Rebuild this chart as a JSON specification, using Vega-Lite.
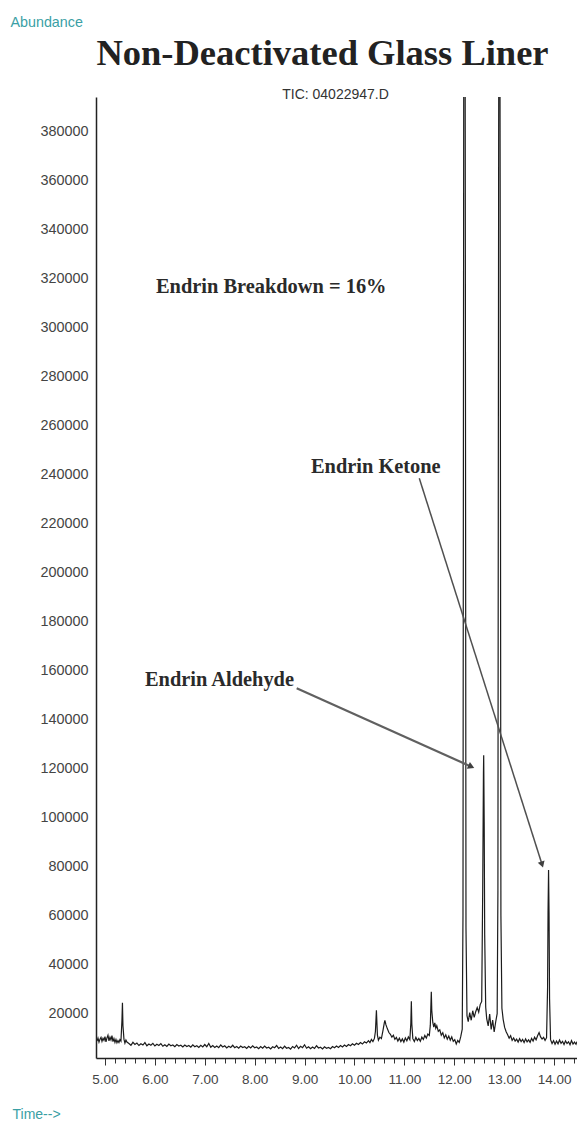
{
  "$schema": "https://vega.github.io/schema/vega-lite/v6.json",
  "width": 481,
  "height": 961,
  "autosize": {"type": "none"},
  "padding": {"left": 96, "top": 97, "right": 0, "bottom": 69},
  "background": "white",
  "title": {
    "text": "Non-Deactivated Glass Liner",
    "font": "Liberation Serif",
    "fontSize": 36.5,
    "fontWeight": "bold",
    "color": "#222222",
    "anchor": "middle",
    "baseline": "alphabetic",
    "dx": -14,
    "offset": -86
  },
  "config": {
    "view": {"stroke": null},
    "font": "Liberation Sans, Arial, sans-serif"
  },
  "resolve": {"axis": {"x": "independent"}},
  "layer": [
    {
      "description": "Total ion chromatogram trace",
      "data": {
        "values": [
          {"t": 4.84, "a": 8600}, {"t": 4.86, "a": 9800}, {"t": 4.88, "a": 8200}, {"t": 4.9, "a": 9400},
          {"t": 4.92, "a": 10100}, {"t": 4.94, "a": 8500}, {"t": 4.96, "a": 9700}, {"t": 4.98, "a": 8900},
          {"t": 5.0, "a": 10400}, {"t": 5.02, "a": 8300}, {"t": 5.04, "a": 9900}, {"t": 5.06, "a": 11000},
          {"t": 5.08, "a": 8700}, {"t": 5.1, "a": 10200}, {"t": 5.12, "a": 9100}, {"t": 5.14, "a": 10800},
          {"t": 5.16, "a": 8400}, {"t": 5.18, "a": 9600}, {"t": 5.2, "a": 8100}, {"t": 5.22, "a": 9300},
          {"t": 5.24, "a": 7900}, {"t": 5.26, "a": 8800}, {"t": 5.28, "a": 8000}, {"t": 5.3, "a": 9200},
          {"t": 5.32, "a": 8600}, {"t": 5.34, "a": 17000}, {"t": 5.35, "a": 24200}, {"t": 5.36, "a": 15000},
          {"t": 5.38, "a": 9400}, {"t": 5.4, "a": 7800}, {"t": 5.42, "a": 9000}, {"t": 5.44, "a": 8200},
          {"t": 5.48, "a": 7600}, {"t": 5.52, "a": 6900}, {"t": 5.56, "a": 8100}, {"t": 5.6, "a": 7200},
          {"t": 5.64, "a": 7800}, {"t": 5.68, "a": 6800}, {"t": 5.72, "a": 7500}, {"t": 5.76, "a": 7000},
          {"t": 5.8, "a": 8000}, {"t": 5.84, "a": 6700}, {"t": 5.88, "a": 7400}, {"t": 5.92, "a": 6900},
          {"t": 5.96, "a": 7700}, {"t": 6.0, "a": 6600}, {"t": 6.04, "a": 7300}, {"t": 6.08, "a": 6800},
          {"t": 6.12, "a": 7600}, {"t": 6.16, "a": 6500}, {"t": 6.2, "a": 7100}, {"t": 6.24, "a": 6400},
          {"t": 6.28, "a": 7400}, {"t": 6.32, "a": 6700}, {"t": 6.36, "a": 7000}, {"t": 6.4, "a": 6300},
          {"t": 6.44, "a": 7200}, {"t": 6.48, "a": 6600}, {"t": 6.52, "a": 6900}, {"t": 6.56, "a": 6200},
          {"t": 6.6, "a": 7000}, {"t": 6.64, "a": 6400}, {"t": 6.68, "a": 6800}, {"t": 6.72, "a": 6100},
          {"t": 6.76, "a": 7100}, {"t": 6.8, "a": 6300}, {"t": 6.84, "a": 6700}, {"t": 6.88, "a": 6000},
          {"t": 6.92, "a": 6900}, {"t": 6.96, "a": 6200}, {"t": 7.0, "a": 7200}, {"t": 7.04, "a": 6300},
          {"t": 7.08, "a": 7600}, {"t": 7.12, "a": 6100}, {"t": 7.16, "a": 6800}, {"t": 7.2, "a": 6000},
          {"t": 7.24, "a": 6600}, {"t": 7.28, "a": 5900}, {"t": 7.32, "a": 7000}, {"t": 7.36, "a": 6200},
          {"t": 7.4, "a": 6700}, {"t": 7.44, "a": 5800}, {"t": 7.48, "a": 6500}, {"t": 7.52, "a": 6000},
          {"t": 7.56, "a": 6900}, {"t": 7.6, "a": 5900}, {"t": 7.64, "a": 6400}, {"t": 7.68, "a": 5700},
          {"t": 7.72, "a": 6600}, {"t": 7.76, "a": 6000}, {"t": 7.8, "a": 6300}, {"t": 7.84, "a": 5600},
          {"t": 7.88, "a": 6500}, {"t": 7.92, "a": 5800}, {"t": 7.96, "a": 6700}, {"t": 8.0, "a": 5900},
          {"t": 8.04, "a": 6200}, {"t": 8.08, "a": 5500}, {"t": 8.12, "a": 6400}, {"t": 8.16, "a": 5700},
          {"t": 8.2, "a": 6600}, {"t": 8.24, "a": 5800}, {"t": 8.28, "a": 6100}, {"t": 8.32, "a": 5400},
          {"t": 8.36, "a": 6300}, {"t": 8.4, "a": 5900}, {"t": 8.44, "a": 6800}, {"t": 8.48, "a": 5600},
          {"t": 8.52, "a": 6200}, {"t": 8.56, "a": 5500}, {"t": 8.6, "a": 6500}, {"t": 8.64, "a": 5700},
          {"t": 8.68, "a": 6000}, {"t": 8.72, "a": 5300}, {"t": 8.76, "a": 6400}, {"t": 8.8, "a": 5800},
          {"t": 8.84, "a": 6900}, {"t": 8.88, "a": 5600}, {"t": 8.92, "a": 6500}, {"t": 8.96, "a": 5900},
          {"t": 9.0, "a": 7100}, {"t": 9.04, "a": 5700}, {"t": 9.08, "a": 6300}, {"t": 9.12, "a": 5500},
          {"t": 9.16, "a": 6200}, {"t": 9.2, "a": 5600}, {"t": 9.24, "a": 6700}, {"t": 9.28, "a": 5800},
          {"t": 9.32, "a": 6100}, {"t": 9.36, "a": 5400}, {"t": 9.4, "a": 6300}, {"t": 9.44, "a": 5700},
          {"t": 9.48, "a": 6000}, {"t": 9.52, "a": 5500}, {"t": 9.56, "a": 6400}, {"t": 9.6, "a": 5900},
          {"t": 9.64, "a": 6600}, {"t": 9.68, "a": 6000}, {"t": 9.72, "a": 6800}, {"t": 9.76, "a": 6200},
          {"t": 9.8, "a": 7000}, {"t": 9.84, "a": 6400}, {"t": 9.88, "a": 7200}, {"t": 9.92, "a": 6700},
          {"t": 9.96, "a": 7500}, {"t": 10.0, "a": 6900}, {"t": 10.04, "a": 7700}, {"t": 10.08, "a": 7200},
          {"t": 10.12, "a": 8000}, {"t": 10.16, "a": 7400}, {"t": 10.2, "a": 8300}, {"t": 10.24, "a": 7800},
          {"t": 10.28, "a": 8800}, {"t": 10.31, "a": 8000}, {"t": 10.34, "a": 9300}, {"t": 10.37, "a": 8400},
          {"t": 10.4, "a": 9700}, {"t": 10.42, "a": 12500}, {"t": 10.44, "a": 21200}, {"t": 10.46, "a": 11000},
          {"t": 10.48, "a": 9000}, {"t": 10.51, "a": 10200}, {"t": 10.54, "a": 9600}, {"t": 10.57, "a": 12800},
          {"t": 10.6, "a": 16200}, {"t": 10.61, "a": 17100}, {"t": 10.63, "a": 15300}, {"t": 10.66, "a": 13600},
          {"t": 10.69, "a": 12100}, {"t": 10.72, "a": 11400}, {"t": 10.75, "a": 10200}, {"t": 10.78, "a": 11000},
          {"t": 10.81, "a": 9300}, {"t": 10.84, "a": 10100}, {"t": 10.87, "a": 8600}, {"t": 10.9, "a": 9800},
          {"t": 10.93, "a": 8400}, {"t": 10.96, "a": 9500}, {"t": 10.99, "a": 8200}, {"t": 11.02, "a": 9900},
          {"t": 11.05, "a": 8700}, {"t": 11.08, "a": 10300}, {"t": 11.11, "a": 9200}, {"t": 11.13, "a": 16000},
          {"t": 11.14, "a": 24900}, {"t": 11.15, "a": 15500}, {"t": 11.17, "a": 9600}, {"t": 11.2, "a": 8400},
          {"t": 11.23, "a": 10100}, {"t": 11.26, "a": 8800}, {"t": 11.29, "a": 9700}, {"t": 11.32, "a": 8500},
          {"t": 11.35, "a": 10200}, {"t": 11.38, "a": 9300}, {"t": 11.41, "a": 10900}, {"t": 11.44, "a": 9800},
          {"t": 11.47, "a": 11500}, {"t": 11.5, "a": 10900}, {"t": 11.52, "a": 15000}, {"t": 11.54, "a": 28700},
          {"t": 11.55, "a": 21000}, {"t": 11.57, "a": 16200}, {"t": 11.59, "a": 14300}, {"t": 11.61, "a": 16000},
          {"t": 11.63, "a": 13800}, {"t": 11.65, "a": 14900}, {"t": 11.68, "a": 12600}, {"t": 11.71, "a": 13200},
          {"t": 11.74, "a": 11000}, {"t": 11.77, "a": 12000}, {"t": 11.8, "a": 9900}, {"t": 11.83, "a": 11200},
          {"t": 11.86, "a": 9400}, {"t": 11.89, "a": 10700}, {"t": 11.92, "a": 9000}, {"t": 11.95, "a": 10300},
          {"t": 11.98, "a": 8500}, {"t": 12.01, "a": 9200}, {"t": 12.04, "a": 7400}, {"t": 12.07, "a": 8900},
          {"t": 12.1, "a": 8100}, {"t": 12.13, "a": 10400}, {"t": 12.16, "a": 13500}, {"t": 12.175, "a": 60000},
          {"t": 12.19, "a": 400000}, {"t": 12.205, "a": 612000}, {"t": 12.22, "a": 380000}, {"t": 12.235, "a": 55000},
          {"t": 12.255, "a": 19000}, {"t": 12.28, "a": 16500}, {"t": 12.31, "a": 20200}, {"t": 12.34, "a": 17100},
          {"t": 12.37, "a": 21000}, {"t": 12.4, "a": 18300}, {"t": 12.43, "a": 20600}, {"t": 12.46, "a": 22300},
          {"t": 12.49, "a": 20400}, {"t": 12.52, "a": 23500}, {"t": 12.55, "a": 24800}, {"t": 12.57, "a": 70000},
          {"t": 12.585, "a": 118000}, {"t": 12.59, "a": 125300}, {"t": 12.6, "a": 98000}, {"t": 12.61, "a": 52000},
          {"t": 12.63, "a": 22500}, {"t": 12.65, "a": 17800}, {"t": 12.68, "a": 14800}, {"t": 12.71, "a": 19600},
          {"t": 12.74, "a": 13400}, {"t": 12.77, "a": 17200}, {"t": 12.8, "a": 12300}, {"t": 12.83, "a": 16400},
          {"t": 12.86, "a": 19800}, {"t": 12.875, "a": 70000}, {"t": 12.89, "a": 380000}, {"t": 12.905, "a": 545000},
          {"t": 12.92, "a": 360000}, {"t": 12.935, "a": 60000}, {"t": 12.955, "a": 22000}, {"t": 12.98, "a": 17500},
          {"t": 13.01, "a": 14200}, {"t": 13.04, "a": 12400}, {"t": 13.07, "a": 11200}, {"t": 13.1, "a": 9800},
          {"t": 13.13, "a": 10800}, {"t": 13.16, "a": 8900}, {"t": 13.19, "a": 9900}, {"t": 13.22, "a": 8600},
          {"t": 13.25, "a": 9400}, {"t": 13.28, "a": 8200}, {"t": 13.31, "a": 9600}, {"t": 13.34, "a": 8400},
          {"t": 13.37, "a": 9300}, {"t": 13.4, "a": 8000}, {"t": 13.43, "a": 9500}, {"t": 13.46, "a": 8300},
          {"t": 13.49, "a": 9100}, {"t": 13.52, "a": 8100}, {"t": 13.55, "a": 9700}, {"t": 13.58, "a": 8600},
          {"t": 13.61, "a": 10200}, {"t": 13.64, "a": 9100}, {"t": 13.67, "a": 10800}, {"t": 13.7, "a": 12100},
          {"t": 13.73, "a": 10300}, {"t": 13.76, "a": 9400}, {"t": 13.79, "a": 10100}, {"t": 13.82, "a": 8900},
          {"t": 13.85, "a": 10000}, {"t": 13.87, "a": 30000}, {"t": 13.88, "a": 62000}, {"t": 13.89, "a": 78400},
          {"t": 13.9, "a": 60000}, {"t": 13.91, "a": 26000}, {"t": 13.93, "a": 9200}, {"t": 13.96, "a": 7600},
          {"t": 13.99, "a": 8800}, {"t": 14.02, "a": 7300}, {"t": 14.05, "a": 8600}, {"t": 14.08, "a": 7500},
          {"t": 14.11, "a": 9000}, {"t": 14.14, "a": 7700}, {"t": 14.17, "a": 8500}, {"t": 14.2, "a": 7200},
          {"t": 14.23, "a": 8700}, {"t": 14.26, "a": 7600}, {"t": 14.29, "a": 8300}, {"t": 14.32, "a": 7100},
          {"t": 14.35, "a": 8800}, {"t": 14.38, "a": 7400}, {"t": 14.41, "a": 8200}, {"t": 14.44, "a": 7300},
          {"t": 14.46, "a": 8400}
        ]
      },
      "mark": {"type": "line", "color": "#1c1c1c", "strokeWidth": 1.2, "clip": true},
      "encoding": {
        "x": {
          "field": "t",
          "type": "quantitative",
          "scale": {"domain": [4.82, 14.46], "nice": false, "zero": false},
          "axis": {
            "orient": "bottom",
            "values": [5, 5.2, 5.4, 5.6, 5.8, 6, 6.2, 6.4, 6.6, 6.8, 7, 7.2, 7.4, 7.6, 7.8, 8, 8.2, 8.4, 8.6, 8.8, 9, 9.2, 9.4, 9.6, 9.8, 10, 10.2, 10.4, 10.6, 10.8, 11, 11.2, 11.4, 11.6, 11.8, 12, 12.2, 12.4, 12.6, 12.8, 13, 13.2, 13.4, 13.6, 13.8, 14, 14.2, 14.4],
            "labelExpr": "abs(datum.value - round(datum.value)) < 0.01 ? format(datum.value, '.2f') : ''",
            "labelFontSize": 13.5,
            "labelColor": "#444444",
            "labelPadding": 7,
            "labelOverlap": false,
            "labelFlush": false,
            "tickColor": "#333333",
            "tickWidth": 1,
            "tickSize": {"condition": {"test": "abs(datum.value - round(datum.value)) < 0.01", "value": 7}, "value": 5},
            "domainColor": "#222222",
            "domainWidth": 1.5,
            "grid": false,
            "title": "Time-->",
            "titleColor": "#3a9fa5",
            "titleFontSize": 14,
            "titleFontWeight": "normal",
            "titleAlign": "left",
            "titleBaseline": "top",
            "titleX": -84,
            "titleY": 49
          }
        },
        "y": {
          "field": "a",
          "type": "quantitative",
          "scale": {"domain": [1700, 394000], "nice": false, "zero": false},
          "axis": {
            "values": [20000, 40000, 60000, 80000, 100000, 120000, 140000, 160000, 180000, 200000, 220000, 240000, 260000, 280000, 300000, 320000, 340000, 360000, 380000],
            "format": "d",
            "ticks": false,
            "labelPadding": 8,
            "labelFontSize": 14.4,
            "labelColor": "#444444",
            "domainColor": "#222222",
            "domainWidth": 1.5,
            "grid": false,
            "title": "Abundance",
            "titleAngle": 0,
            "titleAlign": "left",
            "titleBaseline": "top",
            "titleX": -86,
            "titleY": -82,
            "titleColor": "#3a9fa5",
            "titleFontSize": 14.3,
            "titleFontWeight": "normal"
          }
        }
      }
    },
    {
      "description": "Annotation labels",
      "data": {
        "values": [
          {"t": 6.022, "a": 313990, "label": "Endrin Breakdown = 16%"},
          {"t": 9.128, "a": 240510, "label": "Endrin Ketone"},
          {"t": 5.802, "a": 153560, "label": "Endrin Aldehyde"}
        ]
      },
      "mark": {
        "type": "text",
        "font": "Liberation Serif",
        "fontWeight": "bold",
        "fontSize": 20.4,
        "align": "left",
        "baseline": "alphabetic",
        "color": "#2a2a2a"
      },
      "encoding": {
        "x": {
          "field": "t",
          "type": "quantitative",
          "scale": {"domain": [4.82, 14.46], "nice": false, "zero": false},
          "axis": {
            "orient": "top",
            "domain": false,
            "ticks": false,
            "labels": false,
            "grid": false,
            "title": "TIC: 04022947.D",
            "titleFontSize": 14,
            "titleFontWeight": "normal",
            "titleColor": "#333333",
            "titleAlign": "center",
            "titleBaseline": "middle",
            "titleX": 239,
            "titleY": -3
          }
        },
        "y": {
          "field": "a",
          "type": "quantitative",
          "scale": {"domain": [1700, 394000], "nice": false, "zero": false}
        },
        "text": {"field": "label"}
      }
    },
    {
      "description": "Arrow to the aldehyde peak",
      "data": {"values": [{"t": 8.842, "a": 152620, "t2": 12.342, "a2": 120630}]},
      "layer": [
        {
          "mark": {"type": "rule", "color": "#606060", "strokeWidth": 2.2},
          "encoding": {
            "x": {"field": "t", "type": "quantitative", "scale": {"domain": [4.82, 14.46], "nice": false, "zero": false}, "axis": null},
            "y": {"field": "a", "type": "quantitative", "scale": {"domain": [1700, 394000], "nice": false, "zero": false}},
            "x2": {"field": "t2"},
            "y2": {"field": "a2"}
          }
        },
        {
          "mark": {"type": "point", "shape": "triangle-up", "filled": true, "color": "#404040", "opacity": 1, "size": 55, "angle": 114.2},
          "encoding": {
            "x": {"field": "t2", "type": "quantitative", "scale": {"domain": [4.82, 14.46], "nice": false, "zero": false}, "axis": null},
            "y": {"field": "a2", "type": "quantitative", "scale": {"domain": [1700, 394000], "nice": false, "zero": false}}
          }
        }
      ]
    },
    {
      "description": "Arrow to the ketone peak",
      "data": {"values": [{"t": 11.299, "a": 238340, "t2": 13.76, "a2": 80690}]},
      "layer": [
        {
          "mark": {"type": "rule", "color": "#505050", "strokeWidth": 1.5},
          "encoding": {
            "x": {"field": "t", "type": "quantitative", "scale": {"domain": [4.82, 14.46], "nice": false, "zero": false}, "axis": null},
            "y": {"field": "a", "type": "quantitative", "scale": {"domain": [1700, 394000], "nice": false, "zero": false}},
            "x2": {"field": "t2"},
            "y2": {"field": "a2"}
          }
        },
        {
          "mark": {"type": "point", "shape": "triangle-up", "filled": true, "color": "#404040", "opacity": 1, "size": 50, "angle": 162.4},
          "encoding": {
            "x": {"field": "t2", "type": "quantitative", "scale": {"domain": [4.82, 14.46], "nice": false, "zero": false}, "axis": null},
            "y": {"field": "a2", "type": "quantitative", "scale": {"domain": [1700, 394000], "nice": false, "zero": false}}
          }
        }
      ]
    }
  ]
}
